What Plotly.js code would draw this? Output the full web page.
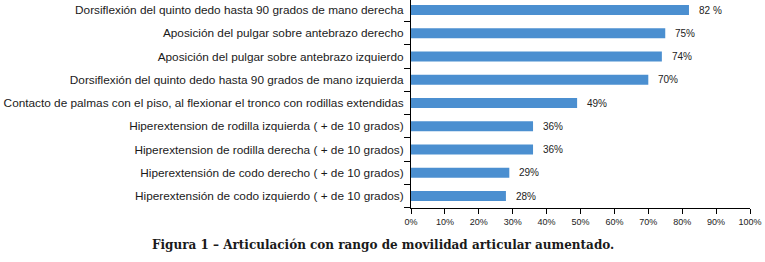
<!DOCTYPE html>
<html><head><meta charset="utf-8">
<script src="https://cdn.plot.ly/plotly-3.0.1.min.js"></script>
<style>html,body{margin:0;padding:0;background:#fff;}</style>
</head><body><div id="chart" style="width:765px;height:262px;"></div>
<script>
const categories = [
  "Hiperextensión de codo izquierdo ( + de 10 grados)",
  "Hiperextensión de codo derecho ( + de 10 grados)",
  "Hiperextension de rodilla derecha ( + de 10 grados)",
  "Hiperextension de rodilla izquierda ( + de 10 grados)",
  "Contacto de palmas con el piso, al flexionar el tronco con rodillas extendidas",
  "Dorsiflexión del quinto dedo hasta 90 grados de mano izquierda",
  "Aposición del pulgar sobre antebrazo izquierdo",
  "Aposición del pulgar sobre antebrazo derecho",
  "Dorsiflexión del quinto dedo hasta 90 grados de mano derecha"
];
const values = [28, 29, 36, 36, 49, 70, 74, 75, 82];
const valueLabels = ["28%", "29%", "36%", "36%", "49%", "70%", "74%", "75%", "82 %"];
const tickValues = [0,10,20,30,40,50,60,70,80,90,100];
const tickLabels = ["0%","10%","20%","30%","40%","50%","60%","70%","80%","90%","100%"];
const caption = "Figura 1 – Articulación con rango de movilidad articular aumentado.";

const trace = {
  type: "bar", orientation: "h",
  x: values, y: categories,
  marker: {color: "#4b8fd0"},
  width: 0.43,
  hoverinfo: "none"
};
const annotations = values.map((v, i) => ({
  x: v, y: categories[i], xref: "x", yref: "y",
  text: valueLabels[i], showarrow: false,
  xanchor: "left", xshift: 8,
  font: {family: "Liberation Sans, Arial, sans-serif", size: 10, color: "#222"}
}));
annotations.push({
  x: 0, y: 0, xref: "paper", yref: "paper", xshift: -28, yshift: -37,
  xanchor: "center", yanchor: "middle", showarrow: false,
  text: "<b>" + caption + "</b>",
  font: {family: "DejaVu Serif, serif", size: 12, color: "#1a1a1a"}
});
const layout = {
  width: 765, height: 262,
  margin: {l: 411, r: 15, t: 0, b: 54, pad: 0},
  paper_bgcolor: "#fff", plot_bgcolor: "#fff",
  showlegend: false,
  xaxis: {
    range: [0, 100], tickvals: tickValues, ticktext: tickLabels,
    showgrid: false, zeroline: false,
    showline: true, linecolor: "#000", linewidth: 1,
    ticks: "outside", ticklen: 5, tickcolor: "#000",
    tickfont: {family: "Liberation Sans, Arial, sans-serif", size: 9, color: "#222"}
  },
  yaxis: {
    type: "category", categoryarray: categories, categoryorder: "array",
    range: [-0.516, 8.43],
    showgrid: false, zeroline: false,
    showline: true, linecolor: "#000", linewidth: 1,
    ticks: "outside", ticklen: 6, tickcolor: "#000", tickson: "boundaries",
    ticklabelstandoff: 4,
    tickfont: {family: "Liberation Sans, Arial, sans-serif", size: 11.8, color: "#1a1a1a"}
  },
  annotations: annotations
};
Plotly.newPlot("chart", [trace], layout, {staticPlot: true, displayModeBar: false});
</script></body></html>
